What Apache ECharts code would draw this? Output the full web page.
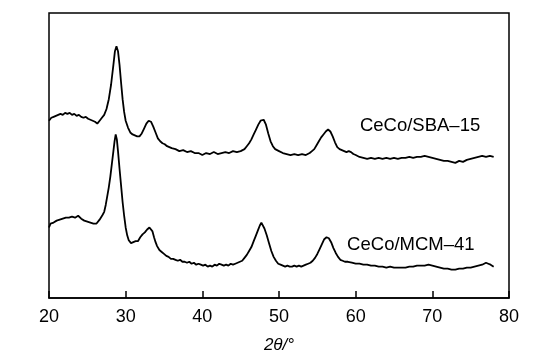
<!DOCTYPE html>
<html><head><meta charset="utf-8">
<script src="https://cdn.jsdelivr.net/npm/echarts@6/dist/echarts.min.js"></script>
<style>html,body{margin:0;padding:0;background:#fff}#c{width:537px;height:359px}</style>
</head><body><div id="c"></div>
<script>
var xTicks = [20, 30, 40, 50, 60, 70, 80];
var seriesNames = ['CeCo/SBA\u201315', 'CeCo/MCM\u201341'];
// CeCo/SBA-15 (upper, offset) [2theta, intensity a.u.]
var sba15 = [[20.0,181],[20.3,184],[20.6,185],[20.9,186],[21.2,187],[21.5,188],[21.8,187],[22.1,189],[22.4,188],[22.7,189],[23.0,187],[23.3,188],[23.6,186],[23.9,187],[24.2,185],[24.5,184],[24.8,185],[25.1,183],[25.4,182],[25.7,181],[26.0,180],[26.3,178],[26.6,181],[26.9,184],[27.2,187],[27.5,193],[27.8,203],[28.1,218],[28.4,238],[28.6,252],[28.8,257],[29.0,252],[29.2,238],[29.4,220],[29.6,203],[29.8,190],[30.0,181],[30.3,174],[30.6,169],[30.9,167],[31.2,166],[31.5,165],[31.8,165],[32.1,168],[32.4,173],[32.7,178],[33.0,181],[33.3,180],[33.6,175],[33.9,169],[34.2,163],[34.5,160],[34.8,158],[35.1,157],[35.4,155],[35.7,154],[36.0,153],[36.5,152],[37.0,150],[37.5,151],[38.0,149],[38.5,150],[39.0,148],[39.5,148],[40.0,146],[40.5,148],[41.0,147],[41.5,149],[42.0,147],[42.5,148],[43.0,149],[43.5,148],[44.0,150],[44.5,149],[45.0,150],[45.5,152],[45.8,155],[46.1,158],[46.4,162],[46.7,167],[47.0,172],[47.3,177],[47.6,181],[47.8,183],[48.0,182],[48.3,177],[48.6,168],[48.9,160],[49.2,155],[49.5,152],[50.0,150],[50.5,148],[51.0,147],[51.5,146],[52.0,147],[52.5,146],[53.0,147],[53.5,146],[54.0,148],[54.3,150],[54.6,152],[54.9,156],[55.2,160],[55.5,164],[55.8,167],[56.1,170],[56.4,172],[56.7,170],[57.0,165],[57.3,159],[57.6,154],[57.9,152],[58.2,151],[58.5,150],[58.8,149],[59.1,150],[59.4,149],[59.7,147],[60.0,146],[60.5,144],[61.0,143],[61.5,142],[62.0,143],[62.5,142],[63.0,143],[63.5,142],[64.0,143],[64.5,142],[65.0,143],[65.5,142],[66.0,143],[66.5,143],[67.0,144],[67.5,143],[68.0,144],[68.5,144],[69.0,145],[69.5,144],[70.0,143],[70.5,142],[71.0,141],[71.5,140],[72.0,140],[72.5,139],[73.0,138],[73.5,140],[74.0,139],[74.5,141],[75.0,142],[75.5,143],[76.0,144],[76.5,145],[77.0,144],[77.5,145],[78.0,144]];
// CeCo/MCM-41 (lower)
var mcm41 = [[20.0,72],[20.2,76],[20.4,74],[20.6,77],[20.8,76],[21.0,79],[21.2,78],[21.4,80],[21.6,79],[21.8,81],[22.0,80],[22.2,82],[22.4,80],[22.6,82],[22.8,81],[23.0,83],[23.2,81],[23.4,82],[23.6,83],[23.8,84],[24.0,82],[24.2,81],[24.4,80],[24.6,79],[24.8,80],[25.0,78],[25.2,79],[25.4,77],[25.6,78],[25.8,76],[26.0,77],[26.2,76],[26.4,78],[26.6,80],[26.8,82],[27.0,85],[27.2,88],[27.4,95],[27.6,104],[27.8,113],[28.0,124],[28.2,137],[28.4,150],[28.55,160],[28.7,167],[28.85,162],[29.0,150],[29.2,132],[29.4,115],[29.6,98],[29.8,84],[30.0,72],[30.2,64],[30.4,59],[30.7,56],[31.0,57],[31.3,58],[31.6,58],[31.9,62],[32.2,65],[32.5,67],[32.8,70],[33.1,72],[33.3,74],[33.5,68],[33.7,62],[33.9,57],[34.1,53],[34.4,49],[34.7,47],[35.0,45],[35.3,43],[35.6,42],[35.9,40],[36.2,40],[36.5,39],[36.8,38],[37.1,39],[37.4,37],[37.7,37],[38.0,36],[38.3,37],[38.6,35],[38.9,36],[39.2,34],[39.5,35],[39.8,34],[40.1,33],[40.4,34],[40.7,32],[41.0,33],[41.3,32],[41.6,34],[41.9,33],[42.2,35],[42.5,34],[42.8,33],[43.1,34],[43.4,33],[43.7,35],[44.0,34],[44.3,35],[44.6,36],[44.9,37],[45.2,38],[45.5,41],[45.8,44],[46.1,48],[46.4,52],[46.7,58],[47.0,64],[47.3,70],[47.5,74],[47.7,77],[47.9,75],[48.1,71],[48.4,64],[48.7,56],[49.0,48],[49.3,42],[49.6,38],[49.9,35],[50.2,34],[50.5,33],[50.8,32],[51.1,33],[51.4,32],[51.7,32],[52.0,33],[52.3,32],[52.6,33],[52.9,32],[53.2,33],[53.5,34],[53.8,35],[54.1,36],[54.4,38],[54.7,41],[55.0,45],[55.3,50],[55.6,55],[55.9,60],[56.2,62],[56.5,61],[56.8,57],[57.1,51],[57.4,46],[57.7,42],[58.0,39],[58.3,38],[58.6,37],[59.0,37],[59.5,36],[60.0,35],[60.5,35],[61.0,34],[61.5,34],[62.0,33],[62.5,33],[63.0,32],[63.5,32],[64.0,31],[64.5,32],[65.0,31],[65.5,31],[66.0,31],[66.5,31],[67.0,32],[67.5,32],[68.0,33],[68.5,33],[69.0,33],[69.5,34],[70.0,33],[70.5,32],[71.0,31],[71.5,30],[72.0,30],[72.5,29],[73.0,29],[73.5,30],[74.0,30],[74.5,31],[75.0,31],[75.5,32],[76.0,33],[76.5,34],[77.0,36],[77.3,35],[77.6,34],[78.0,32]];
// label anchor points (in data coords)
var labelAnchors = [[68.4, 176], [67.2, 54]];

var chart = echarts.init(document.getElementById('c'), null, {renderer: 'canvas'});
var font = 'Liberation Sans, Arial, Helvetica, sans-serif';
chart.setOption({
  animation: false,
  grid: {left: 49, top: 13, width: 460, height: 291, show: true, borderColor: '#000', borderWidth: 1.5, backgroundColor: 'transparent'},
  xAxis: {
    type: 'value', min: xTicks[0], max: xTicks[xTicks.length - 1], interval: 10,
    axisLine: {show: true, lineStyle: {color: '#000', width: 1.5}},
    axisTick: {show: true, inside: true, length: 7, lineStyle: {color: '#000', width: 1.5}},
    axisLabel: {color: '#000', fontSize: 18, fontFamily: font, margin: 10},
    splitLine: {show: false},
    name: '2\u03b8/\u00b0', nameLocation: 'middle', nameGap: 39,
    nameTextStyle: {color: '#000', fontSize: 17, fontStyle: 'italic', fontFamily: font}
  },
  yAxis: {type: 'value', min: 0, max: 291, show: false, splitLine: {show: false}},
  series: [
    {name: seriesNames[0], type: 'line', data: sba15, showSymbol: false, smooth: false,
     lineStyle: {color: '#000', width: 1.8}, itemStyle: {color: '#000'},
     markPoint: {symbol: 'circle', symbolSize: 0, data: [{coord: labelAnchors[0], value: seriesNames[0]}],
       label: {show: true, position: 'inside', formatter: seriesNames[0], color: '#000', fontSize: 18.5, fontFamily: font}}},
    {name: seriesNames[1], type: 'line', data: mcm41, showSymbol: false, smooth: false,
     lineStyle: {color: '#000', width: 1.8}, itemStyle: {color: '#000'},
     markPoint: {symbol: 'circle', symbolSize: 0, data: [{coord: labelAnchors[1], value: seriesNames[1]}],
       label: {show: true, position: 'inside', formatter: seriesNames[1], color: '#000', fontSize: 18.5, fontFamily: font}}}
  ]
});
</script></body></html>
